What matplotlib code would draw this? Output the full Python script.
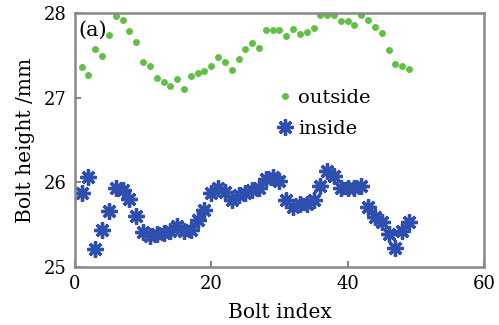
import numpy as np
import matplotlib
matplotlib.use("Agg")
import matplotlib.pyplot as plt

plt.rcParams['font.family'] = ['DejaVu Serif']

# outside bolts
out_idx = [1, 2, 3, 4, 5, 6, 7, 8, 9, 10, 11, 12, 13, 14, 15, 16, 17, 18, 19, 20,
           21, 22, 23, 24, 25, 26, 27, 28, 29, 30, 31, 32, 33, 34, 35, 36, 37, 38, 39, 40,
           41, 42, 43, 44, 45, 46, 47, 48, 49]
out_h = [27.36, 27.27, 27.58, 27.49, 27.74, 27.97, 27.92, 27.79, 27.66, 27.42,
         27.38, 27.23, 27.18, 27.14, 27.22, 27.10, 27.26, 27.29, 27.32, 27.38,
         27.48, 27.42, 27.33, 27.46, 27.58, 27.64, 27.59, 27.80, 27.80, 27.80,
         27.73, 27.81, 27.75, 27.78, 27.82, 27.98, 27.98, 27.98, 27.90, 27.90,
         27.86, 27.98, 27.92, 27.84, 27.76, 27.56, 27.40, 27.38, 27.34]

# inside bolts
in_idx = [1, 2, 3, 4, 5, 6, 7, 8, 9, 10, 11, 12, 13, 14, 15, 16, 17, 18, 19, 20,
          21, 22, 23, 24, 25, 26, 27, 28, 29, 30, 31, 32, 33, 34, 35, 36, 37, 38, 39, 40,
          41, 42, 43, 44, 45, 46, 47, 48, 49]
in_h = [25.87, 26.07, 25.22, 25.44, 25.66, 25.94, 25.91, 25.80, 25.60, 25.41,
        25.37, 25.39, 25.40, 25.43, 25.49, 25.43, 25.44, 25.56, 25.68, 25.87,
        25.94, 25.89, 25.79, 25.85, 25.87, 25.91, 25.94, 26.04, 26.07, 26.02,
        25.79, 25.71, 25.75, 25.75, 25.79, 25.96, 26.14, 26.08, 25.94, 25.94,
        25.94, 25.96, 25.71, 25.59, 25.53, 25.39, 25.23, 25.43, 25.53]

fig = plt.figure(figsize=(4.99, 3.25), dpi=100)
ax = fig.add_axes([0.150, 0.178, 0.820, 0.782])

ax.plot(out_idx, out_h, 'o', color='#62bf45', markersize=5,
        markeredgewidth=0, label='outside')
ax.plot(in_idx, in_h, marker=(8, 2, 0), linestyle='none', color='#2f4fae',
        markersize=11.5, markeredgewidth=2.4, label='inside')

ax.set_xlim(0, 60)
ax.set_ylim(25, 28)
ax.set_xticks([0, 20, 40, 60])
ax.set_yticks([25, 26, 27, 28])
ax.tick_params(direction='in', length=4, width=1.5, color='#888888',
               labelsize=13, pad=6)
for s in ax.spines.values():
    s.set_color('#888888')
    s.set_linewidth(1.8)

ax.set_xlabel('Bolt index', fontsize=14.5, labelpad=7)
ax.set_ylabel('Bolt height /mm', fontsize=14.5, labelpad=6)
ax.text(0.008, 0.91, '(a)', transform=ax.transAxes, fontsize=15)

ax.legend(loc='upper left', bbox_to_anchor=(0.465, 0.733), frameon=False,
          fontsize=14, handletextpad=0.1, labelspacing=0.7, handlelength=1.2,
          borderaxespad=0)

fig.savefig('out.png', dpi=100)
